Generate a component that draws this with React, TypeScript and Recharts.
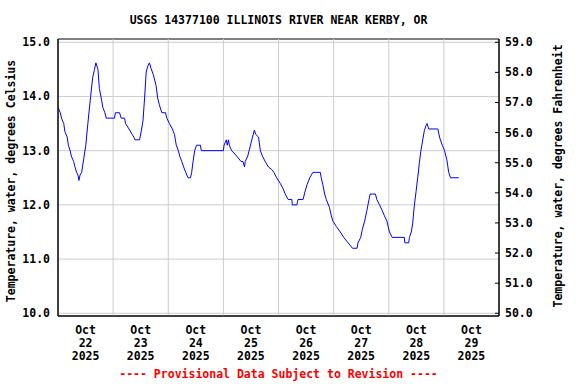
import {
  LineChart,
  Line,
  XAxis,
  YAxis,
  CartesianGrid,
  ReferenceLine,
  ReferenceArea,
} from "recharts";

// hours since Oct 22 2025 00:00 and water temperature (deg C)
const hours = [
  0, 1, 1.5, 2.5, 3, 4, 4.5, 5.3, 5.8, 6.8, 7.4, 8.1, 8.7, 9.1, 9.6, 10.3, 11.2,
  12.1, 13, 14.2, 15.1, 15.9, 16.5, 17.4, 18, 18.9, 19.5, 20.4, 21, 24.6, 25,
  26.8, 27.5, 29, 29.4, 30.9, 32.3, 33, 33.5, 35.5, 36.2, 37, 37.7, 38.4, 39.1,
  39.8, 40.5, 41.5, 42.7, 43.4, 44.1, 45.2, 46.8, 47.4, 48.5, 49.8, 50.7, 51.5,
  52.4, 53, 53.9, 54.7, 55.6, 56.6, 57.7, 58.2, 58.8, 59.5, 60.3, 62, 62.4, 72,
  72.3, 73.3, 73.7, 74.2, 74.6, 75.6, 77.8, 79.7, 80.5, 81.2, 81.5, 82.6, 83.2,
  84.1, 84.7, 85.5, 86.1, 87.3, 88.1, 89, 90.2, 91.6, 93.1, 94, 95.2, 96.7, 98,
  98.9, 100.2, 101.8, 102, 104, 104.5, 106.7, 107.4, 108.4, 109.6, 111, 114.2,
  114.6, 115.3, 116.1, 116.8, 118.2, 119, 119.7, 121.2, 122.9, 124.4, 126.3,
  128.2, 130.2, 130.6, 131.8, 132.5, 133.5, 134.5, 135.4, 135.9, 138.2, 138.8,
  140, 141.1, 142.1, 143.2, 144.3, 145.5, 150.8, 151, 152.7, 153, 153.8, 154.4,
  155.1, 155.9, 156.6, 157.3, 158, 158.8, 159.5, 160.2, 160.7, 161.4, 165.4,
  166.1, 167.3, 168.3, 169.3, 170.1, 170.9, 174.5,
];
const tempC = [
  13.8, 13.7, 13.6, 13.5, 13.35, 13.25, 13.1, 13.0, 12.9, 12.8, 12.7, 12.6,
  12.55, 12.45, 12.55, 12.6, 12.85, 13.1, 13.5, 14.0, 14.35, 14.5, 14.62, 14.5,
  14.15, 13.95, 13.8, 13.7, 13.6, 13.6, 13.7, 13.7, 13.6, 13.6, 13.5, 13.4,
  13.3, 13.25, 13.2, 13.2, 13.35, 13.55, 13.97, 14.45, 14.56, 14.62, 14.52,
  14.4, 14.2, 13.97, 13.85, 13.7, 13.7, 13.6, 13.5, 13.4, 13.3, 13.1, 13.0,
  12.9, 12.8, 12.7, 12.6, 12.5, 12.5, 12.6, 12.8, 13.0, 13.1, 13.1, 13.0, 13.0,
  13.1, 13.2, 13.1, 13.2, 13.1, 13.0, 12.9, 12.8, 12.8, 12.7, 12.8, 12.9, 13.0,
  13.15, 13.25, 13.38, 13.3, 13.25, 13.0, 12.9, 12.8, 12.7, 12.65, 12.6, 12.5,
  12.4, 12.3, 12.2, 12.1, 12.1, 12.0, 12.0, 12.1, 12.1, 12.22, 12.37, 12.5,
  12.6, 12.6, 12.5, 12.37, 12.2, 12.1, 11.95, 11.8, 11.7, 11.6, 11.5, 11.4,
  11.3, 11.2, 11.2, 11.3, 11.4, 11.55, 11.7, 11.9, 12.1, 12.2, 12.2, 12.1,
  12.0, 11.9, 11.8, 11.7, 11.5, 11.4, 11.4, 11.3, 11.3, 11.4, 11.5, 11.65,
  11.97, 12.25, 12.5, 12.76, 13.0, 13.2, 13.37, 13.46, 13.5, 13.4, 13.4, 13.25,
  13.1, 13.0, 12.83, 12.6, 12.5, 12.5,
];

const dayTicks = [12, 36, 60, 84, 108, 132, 156, 180];
const dayLabels = ["22", "23", "24", "25", "26", "27", "28", "29"];
const midnights = [24, 48, 72, 96, 120, 144, 168];
const celsiusTicks = [10, 11, 12, 13, 14, 15];
const fahrenheitTicks = [50, 51, 52, 53, 54, 55, 56, 57, 58, 59];

const C_DOMAIN: [number, number] = [9.95, 15.06];
const F_DOMAIN: [number, number] = [
  (C_DOMAIN[0] * 9) / 5 + 32,
  (C_DOMAIN[1] * 9) / 5 + 32,
];

const chartData = hours.map((h, i) => ({ h, c: tempC[i] }));

const FONT = "'DejaVu Sans Mono', monospace";
const textStyle = {
  fontFamily: FONT,
  fontWeight: "bold" as const,
  fontSize: 11.5,
  fill: "#000",
};

const DateTick = ({ x, y, payload }: any) => {
  const label = dayLabels[dayTicks.indexOf(payload.value)];
  return (
    <text x={x} y={y} textAnchor="middle" {...textStyle}>
      <tspan x={x} dy={17.5}>Oct</tspan>
      <tspan x={x} dy={13.5}>{label}</tspan>
      <tspan x={x} dy={13}>2025</tspan>
    </text>
  );
};

const CTick = ({ x, y, payload }: any) => (
  <text x={x} y={y} dy={4} textAnchor="end" {...textStyle}>
    {payload.value.toFixed(1)}
  </text>
);

// right axis ticks point into the plot
const FTick = ({ x, y, payload }: any) => (
  <g>
    <line x1={x - 10} x2={x - 6} y1={y} y2={y} stroke="#000" />
    <text x={x} y={y} dy={4} textAnchor="start" {...textStyle}>
      {payload.value.toFixed(1)}
    </text>
  </g>
);

const App = () => {
  return (
    <div
      style={{
        position: "absolute",
        left: 0,
        top: 0,
        width: 576,
        height: 384,
        background: "#fff",
      }}
    >
      <LineChart
        width={576}
        height={384}
        data={chartData}
        margin={{ top: 39, right: 0, left: 0, bottom: 0 }}
      >
        <CartesianGrid
          yAxisId="c"
          vertical={false}
          horizontalValues={celsiusTicks}
          stroke="#cccccc"
        />
        {midnights.map((m) => (
          <ReferenceLine
            key={m}
            x={m}
            yAxisId="c"
            stroke="#cccccc"
            strokeWidth={1}
          />
        ))}
        <XAxis
          dataKey="h"
          type="number"
          domain={[0, 192]}
          ticks={dayTicks}
          interval={0}
          allowDataOverflow
          height={68}
          axisLine={{ stroke: "#000" }}
          tickLine={false}
          tickSize={0}
          tickMargin={0}
          tick={<DateTick />}
        />
        <YAxis
          yAxisId="c"
          orientation="left"
          type="number"
          domain={C_DOMAIN}
          ticks={celsiusTicks}
          allowDataOverflow
          width={58}
          axisLine={{ stroke: "#000" }}
          tickLine={false}
          tickSize={0}
          tickMargin={8}
          tick={<CTick />}
        />
        <YAxis
          yAxisId="f"
          orientation="right"
          type="number"
          domain={F_DOMAIN}
          ticks={fahrenheitTicks}
          allowDataOverflow
          width={77}
          axisLine={{ stroke: "#000" }}
          tickLine={false}
          tickSize={0}
          tickMargin={6}
          tick={<FTick />}
        />
        <Line
          yAxisId="c"
          type="linear"
          dataKey="c"
          stroke="#0000ff"
          strokeWidth={1}
          dot={false}
          activeDot={false}
          isAnimationActive={false}
        />
        <ReferenceArea
          yAxisId="c"
          x1={0}
          x2={192}
          y1={C_DOMAIN[0]}
          y2={C_DOMAIN[1]}
          fill="none"
          fillOpacity={0}
          stroke="#000"
          strokeWidth={1}
        />
      </LineChart>
      <svg
        width={576}
        height={384}
        style={{ position: "absolute", left: 0, top: 0, pointerEvents: "none" }}
      >
        <text x={278.5} y={24} textAnchor="middle" {...textStyle}>
          USGS 14377100 ILLINOIS RIVER NEAR KERBY, OR
        </text>
        <text
          x={0}
          y={0}
          textAnchor="middle"
          transform="translate(15, 181) rotate(-90)"
          {...textStyle}
        >
          Temperature, water, degrees Celsius
        </text>
        <text
          x={0}
          y={0}
          textAnchor="middle"
          transform="translate(562, 176) rotate(-90)"
          {...textStyle}
        >
          Temperature, water, degrees Fahrenheit
        </text>
        <text
          x={278.5}
          y={378}
          textAnchor="middle"
          {...textStyle}
          fill="#ff0000"
        >
          ---- Provisional Data Subject to Revision ----
        </text>
      </svg>
    </div>
  );
};

export default App;
